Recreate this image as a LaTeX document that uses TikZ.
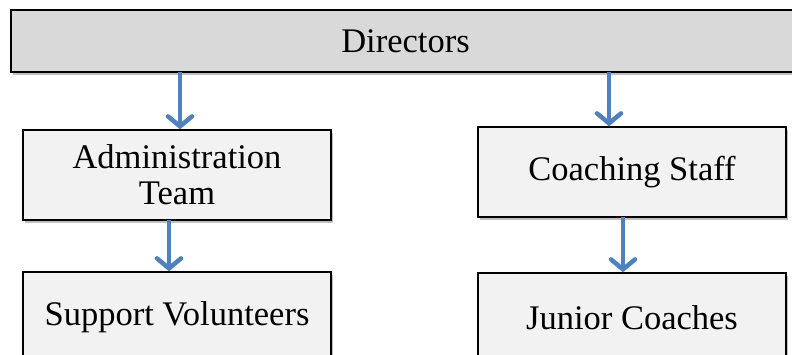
\documentclass[tikz,border=0pt]{standalone}
\usepackage{fontspec}
\setmainfont{Liberation Serif}
\usetikzlibrary{arrows.meta,shadows}
\definecolor{arrowblue}{HTML}{4F81BD}
\definecolor{topfill}{HTML}{D9D9D9}
\definecolor{boxfill}{HTML}{F2F2F2}
\begin{document}
\begin{tikzpicture}[x=1pt,y=-1pt,
  orgbox/.style={draw=black, line width=1.4pt, fill=boxfill, minimum width=308pt, minimum height=90pt,
    inner sep=0pt, align=center, font=\fontsize{34.5}{36}\selectfont,
    drop shadow={shadow xshift=1.5pt, shadow yshift=-3pt, fill=black, opacity=0.25}},
  topbox/.style={orgbox, fill=topfill, minimum width=789pt, minimum height=62pt},
  link/.style={draw=arrowblue, line width=4.5pt, -{Straight Barb[length=10pt,width=24pt,line cap=round]}}]
\useasboundingbox (0,0) rectangle (792,355);
\node[topbox] (dir) at (405.5,41) {Directors};
\node[orgbox] (adm) at (177,175) {Administration\\Team};
\node[orgbox] (sup) at (177,317) {Support Volunteers};
\node[orgbox] (coa) at (632,172) {Coaching Staff};
\node[orgbox] (jun) at (632,318) {Junior Coaches};
\coordinate (a1) at (180,72);
\coordinate (a2) at (169,220);
\coordinate (a3) at (609,72);
\coordinate (a4) at (623,217);
\draw[link] (a1) -- (a1 |- adm.north);
\draw[link] (a2) -- (a2 |- sup.north);
\draw[link] (a3) -- (a3 |- coa.north);
\draw[link] (a4) -- (a4 |- jun.north);
\end{tikzpicture}
\end{document}
